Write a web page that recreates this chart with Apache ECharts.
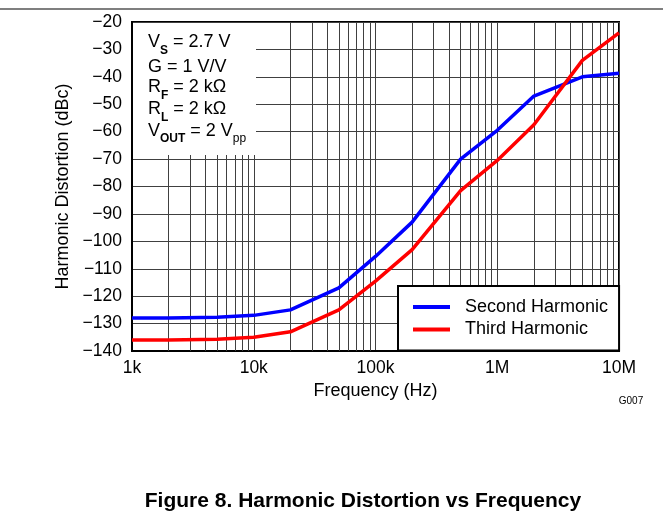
<!DOCTYPE html>
<html>
<head>
<meta charset="utf-8">
<script src="https://cdn.jsdelivr.net/npm/echarts@6/dist/echarts.min.js"></script>
<style>
html,body{margin:0;padding:0;background:#fff;}
#chart{width:663px;height:522px;}
</style>
</head>
<body>
<div id="chart"></div>
<script>
// ---- data ----
var freqs = [1000, 2000, 5000, 10000, 20000, 50000, 100000, 200000, 500000, 1000000, 2000000, 5000000, 10000000];
var secondHarmonic = [-128, -128, -127.7, -127, -125, -117, -105.5, -93, -70, -59.5, -47, -40, -38.7];
var thirdHarmonic = [-136, -136, -135.7, -135, -133, -125, -114.5, -103, -81.5, -70.5, -57.5, -34, -24];
var seriesNames = ['Second Harmonic', 'Third Harmonic'];
var xTickLabels = {1000: '1k', 10000: '10k', 100000: '100k', 1000000: '1M', 10000000: '10M'};
var minorGridX = [2000,3000,4000,5000,6000,7000,8000,9000,
  20000,30000,40000,50000,60000,70000,80000,90000,
  200000,300000,400000,500000,600000,700000,800000,900000,
  2000000,3000000,4000000,5000000,6000000,7000000,8000000,9000000];

var FONT = '"Liberation Sans", Arial, Helvetica, sans-serif';
var FS = 17.5;
var GRID = '#404040';

function pairs(ys) { return freqs.map(function (f, i) { return [f, ys[i]]; }); }

var chart = echarts.init(document.getElementById('chart'), null, {renderer: 'canvas'});

var nStyle = {fontSize: 18, fontFamily: FONT, lineHeight: 28, color: '#000'};
var sbStyle = {fontSize: 12, fontFamily: FONT, fontWeight: 'bold', lineHeight: 12, verticalAlign: 'bottom', color: '#000'};
var ssStyle = {fontSize: 12, fontFamily: FONT, lineHeight: 12, verticalAlign: 'bottom', color: '#000'};
function condText(y, txt) {
  return {
    type: 'text', x: 148, y: y, z: 10,
    style: {
      text: txt, fill: '#000', font: '18px ' + FONT,
      verticalAlign: 'middle', align: 'left',
      rich: {n: nStyle, sb: sbStyle, ss: ssStyle}
    }
  };
}

var option = {
  animation: false,
  backgroundColor: '#fff',
  grid: {left: 132, right: 44, top: 22, bottom: 171, show: true, borderColor: '#000', borderWidth: 2, backgroundColor: 'transparent'},
  legend: {
    data: seriesNames,
    orient: 'vertical',
    left: 398, top: 286,
    padding: [12, 11, 12, 15],
    itemGap: 4.5,
    itemWidth: 37, itemHeight: 4,
    icon: 'rect',
    backgroundColor: '#fff',
    borderColor: '#000', borderWidth: 2, borderRadius: 0,
    textStyle: {fontSize: 18, fontFamily: FONT, color: '#000', padding: [0, 0, 0, 10]},
    selectedMode: false
  },
  xAxis: {
    type: 'log', logBase: 10, min: 1000, max: 10000000,
    axisLine: {show: true, lineStyle: {color: '#000', width: 2}},
    axisTick: {show: false},
    splitLine: {show: true, lineStyle: {color: GRID, width: 1}},
    axisLabel: {
      fontSize: FS, fontFamily: FONT, color: '#000', margin: 8,
      formatter: function (v) { return xTickLabels[Math.round(v)] || ''; }
    },
    name: 'Frequency (Hz)', nameLocation: 'middle', nameGap: 30,
    nameTextStyle: {fontSize: 18, fontFamily: FONT, color: '#000'}
  },
  yAxis: {
    type: 'value', min: -140, max: -20, interval: 10,
    axisLine: {show: true, lineStyle: {color: '#000', width: 2}},
    axisTick: {show: false},
    splitLine: {show: true, lineStyle: {color: GRID, width: 1}},
    axisLabel: {
      fontSize: FS, fontFamily: FONT, color: '#000', margin: 10,
      formatter: function (v) { return String(v).replace('-', '\u2212'); }
    },
    name: 'Harmonic Distortion (dBc)', nameLocation: 'middle', nameGap: 58,
    nameTextStyle: {fontSize: 18, fontFamily: FONT, color: '#000'}
  },
  series: [
    {
      name: '_grid', type: 'line', data: [], z: 1, silent: true,
      markLine: {
        z: 1, silent: true, symbol: ['none', 'none'], animation: false,
        label: {show: false},
        lineStyle: {color: GRID, width: 1, type: 'solid'},
        emphasis: {disabled: true},
        data: minorGridX.map(function (v) { return {xAxis: v}; })
      }
    },
    {
      name: seriesNames[0], type: 'line', data: pairs(secondHarmonic), z: 2,
      showSymbol: false, symbol: 'none', smooth: false,
      lineStyle: {color: '#0000ff', width: 3.5}, itemStyle: {color: '#0000ff'}
    },
    {
      name: seriesNames[1], type: 'line', data: pairs(thirdHarmonic), z: 2,
      showSymbol: false, symbol: 'none', smooth: false,
      lineStyle: {color: '#ff0000', width: 3.5}, itemStyle: {color: '#ff0000'}
    }
  ],
  graphic: [
    {type: 'line', z: 10, shape: {x1: 0, y1: 9, x2: 663, y2: 9}, style: {stroke: '#000', lineWidth: 1.2}},
    {type: 'rect', z: 3, shape: {x: 133, y: 23, width: 123, height: 132}, style: {fill: '#fff'}},
    condText(42.5, '{n|V}{sb|S}{n| = 2.7 V}'),
    condText(67.5, '{n|G = 1 V/V}'),
    condText(87.5, '{n|R}{sb|F}{n| = 2 k\u03A9}'),
    condText(109.5, '{n|R}{sb|L}{n| = 2 k\u03A9}'),
    condText(131, '{n|V}{sb|OUT}{n| = 2 V}{ss|pp}'),
    {type: 'text', x: 631, y: 401, z: 10, style: {text: 'G007', fill: '#000', font: '10px ' + FONT, align: 'center', verticalAlign: 'middle'}},
    {type: 'text', x: 363, y: 501, z: 10, style: {text: 'Figure 8. Harmonic Distortion vs Frequency', fill: '#000', font: 'bold 21px ' + FONT, align: 'center', verticalAlign: 'middle'}}
  ]
};
chart.setOption(option);
</script>
</body>
</html>
